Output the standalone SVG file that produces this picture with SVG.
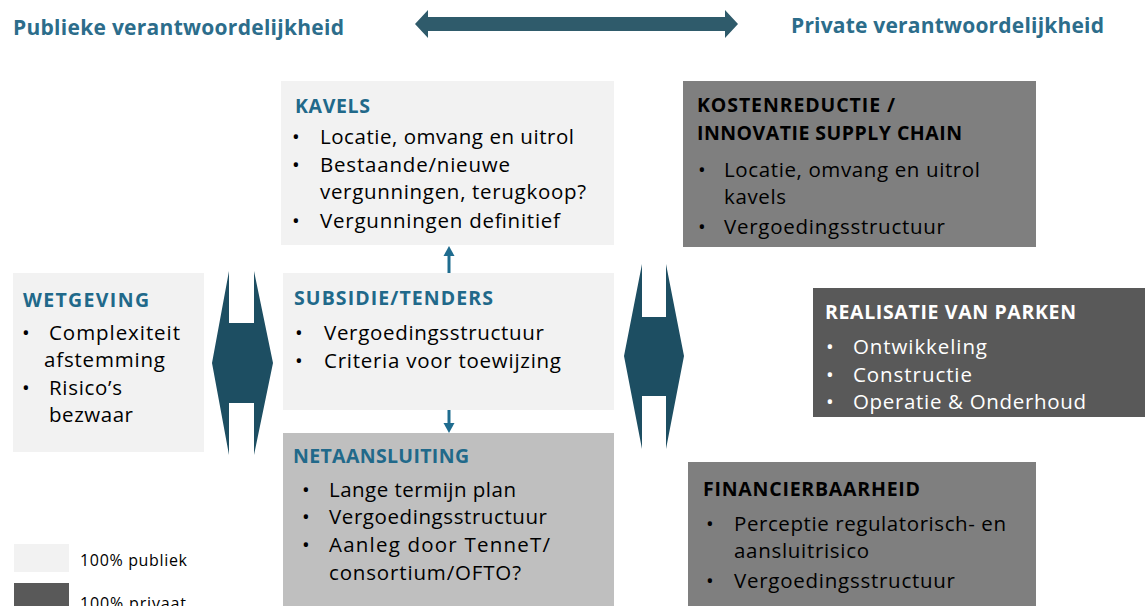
<svg xmlns="http://www.w3.org/2000/svg" width="1145" height="606" viewBox="0 0 1145 606">
<style>
  .hdr{font-family:"Open Sans","Liberation Sans",sans-serif;font-weight:bold;font-size:21px;fill:#2c6d8b}
  .ttl{font-family:"Open Sans","Liberation Sans",sans-serif;font-weight:bold;font-size:19.5px;fill:#21698a}
  .ttlk{font-family:"Open Sans","Liberation Sans",sans-serif;font-weight:bold;font-size:19.5px;fill:#000}
  .ttlw{font-family:"Open Sans","Liberation Sans",sans-serif;font-weight:bold;font-size:19.5px;fill:#fff}
  .b{font-family:"Open Sans","Liberation Sans",sans-serif;font-size:20.5px;fill:#000}
  .bw{font-family:"Open Sans","Liberation Sans",sans-serif;font-size:20.5px;fill:#fff}
  .lg{font-family:"Open Sans","Liberation Sans",sans-serif;font-size:16px;fill:#000}
  .pub{fill:#f2f2f2}
  .mid{fill:#7f7f7f}
  .dark{fill:#595959}
  .net{fill:#bfbfbf}
  .hex{fill:#1d4e62}
</style>

<g id="header-left"><text class="hdr" x="13" y="35" textLength="331">Publieke verantwoordelijkheid</text></g>
<g id="header-right"><text class="hdr" x="791" y="33" textLength="313">Private verantwoordelijkheid</text></g>

<g id="kavels">
  <rect class="pub" x="281" y="81" width="333" height="164"/>
  <text class="ttl" x="295" y="113" textLength="75">KAVELS</text>
  <text class="b" x="292" y="144">•</text>
  <text class="b" x="320" y="144" textLength="254">Locatie, omvang en uitrol</text>
  <text class="b" x="292" y="172">•</text>
  <text class="b" x="320" y="172" textLength="190">Bestaande/nieuwe</text>
  <text class="b" x="320" y="199" textLength="266">vergunningen, terugkoop?</text>
  <text class="b" x="292" y="228">•</text>
  <text class="b" x="320" y="228" textLength="240">Vergunningen definitief</text>
</g>

<g id="kostenreductie">
  <rect class="mid" x="683" y="81" width="353" height="166"/>
  <text class="ttlk" x="697" y="112" textLength="198">KOSTENREDUCTIE /</text>
  <text class="ttlk" x="697" y="140" textLength="265">INNOVATIE SUPPLY CHAIN</text>
  <text class="b" x="698" y="177">•</text>
  <text class="b" x="724" y="177" textLength="256">Locatie, omvang en uitrol</text>
  <text class="b" x="724" y="204" textLength="62">kavels</text>
  <text class="b" x="698" y="234">•</text>
  <text class="b" x="724" y="234" textLength="221">Vergoedingsstructuur</text>
</g>

<g id="wetgeving">
  <rect class="pub" x="13" y="273" width="191" height="179"/>
  <text class="ttl" x="23" y="307" textLength="126">WETGEVING</text>
  <text class="b" x="22" y="340">•</text>
  <text class="b" x="49" y="340" textLength="131">Complexiteit</text>
  <text class="b" x="44" y="367" textLength="121">afstemming</text>
  <text class="b" x="22" y="395">•</text>
  <text class="b" x="49" y="395" textLength="73">Risico’s</text>
  <text class="b" x="49" y="422" textLength="84">bezwaar</text>
</g>

<g id="subsidie">
  <rect class="pub" x="283" y="273" width="331" height="137"/>
  <text class="ttl" x="294" y="305" textLength="199">SUBSIDIE/TENDERS</text>
  <text class="b" x="295" y="340">•</text>
  <text class="b" x="324" y="340" textLength="220">Vergoedingsstructuur</text>
  <text class="b" x="295" y="368">•</text>
  <text class="b" x="324" y="368" textLength="237">Criteria voor toewijzing</text>
</g>

<g id="realisatie">
  <rect class="dark" x="813" y="288" width="332" height="129"/>
  <text class="ttlw" x="825" y="319" textLength="251">REALISATIE VAN PARKEN</text>
  <text class="bw" x="826" y="354">•</text>
  <text class="bw" x="853" y="354" textLength="134">Ontwikkeling</text>
  <text class="bw" x="826" y="382">•</text>
  <text class="bw" x="853" y="382" textLength="119">Constructie</text>
  <text class="bw" x="826" y="409">•</text>
  <text class="bw" x="853" y="409" textLength="233">Operatie &amp; Onderhoud</text>
</g>

<g id="netaansluiting">
  <rect class="net" x="283" y="433" width="331" height="173"/>
  <text class="ttl" x="293" y="463" textLength="176">NETAANSLUITING</text>
  <text class="b" x="302" y="497">•</text>
  <text class="b" x="329" y="497" textLength="187">Lange termijn plan</text>
  <text class="b" x="302" y="524">•</text>
  <text class="b" x="329" y="524" textLength="218">Vergoedingsstructuur</text>
  <text class="b" x="302" y="552">•</text>
  <text class="b" x="329" y="552" textLength="221">Aanleg door TenneT/</text>
  <text class="b" x="329" y="580" textLength="192">consortium/OFTO?</text>
</g>

<g id="financierbaarheid">
  <rect class="mid" x="688" y="462" width="348" height="144"/>
  <text class="ttlk" x="703" y="496" textLength="217">FINANCIERBAARHEID</text>
  <text class="b" x="706" y="531">•</text>
  <text class="b" x="734" y="531" textLength="272">Perceptie regulatorisch- en</text>
  <text class="b" x="734" y="558" textLength="135">aansluitrisico</text>
  <text class="b" x="706" y="588">•</text>
  <text class="b" x="734" y="588" textLength="221">Vergoedingsstructuur</text>
</g>

<g id="legend">
  <rect class="pub" x="14" y="544" width="55" height="28"/>
  <text class="lg" x="80" y="566" textLength="107">100% publiek</text>
  <rect class="dark" x="14" y="583" width="55" height="30"/>
  <text class="lg" x="80" y="609" textLength="106">100% privaat</text>
</g>

<g id="connectors">
  <polygon fill="#2f5b6b" points="415,24 428,10 428,17 725,17 725,10 738,24 725,38 725,31 428,31 428,38"/>
  <polygon class="hex" points="229,271 229,323 254,323 254,271 273,363 254,455 254,403 229,403 229,455 212,363"/>
  <polygon class="hex" points="642,264 642,317 666,317 666,264 684,356 666,449 666,396 642,396 642,449 624,356"/>
  <line x1="449" y1="273" x2="449" y2="254" stroke="#1f6c8f" stroke-width="3"/>
  <polygon fill="#1f6c8f" points="449,246 454.5,256 443.5,256"/>
  <line x1="449" y1="410" x2="449" y2="425" stroke="#1f6c8f" stroke-width="3"/>
  <polygon fill="#1f6c8f" points="449,433 454.5,423 443.5,423"/>
</g>
</svg>
